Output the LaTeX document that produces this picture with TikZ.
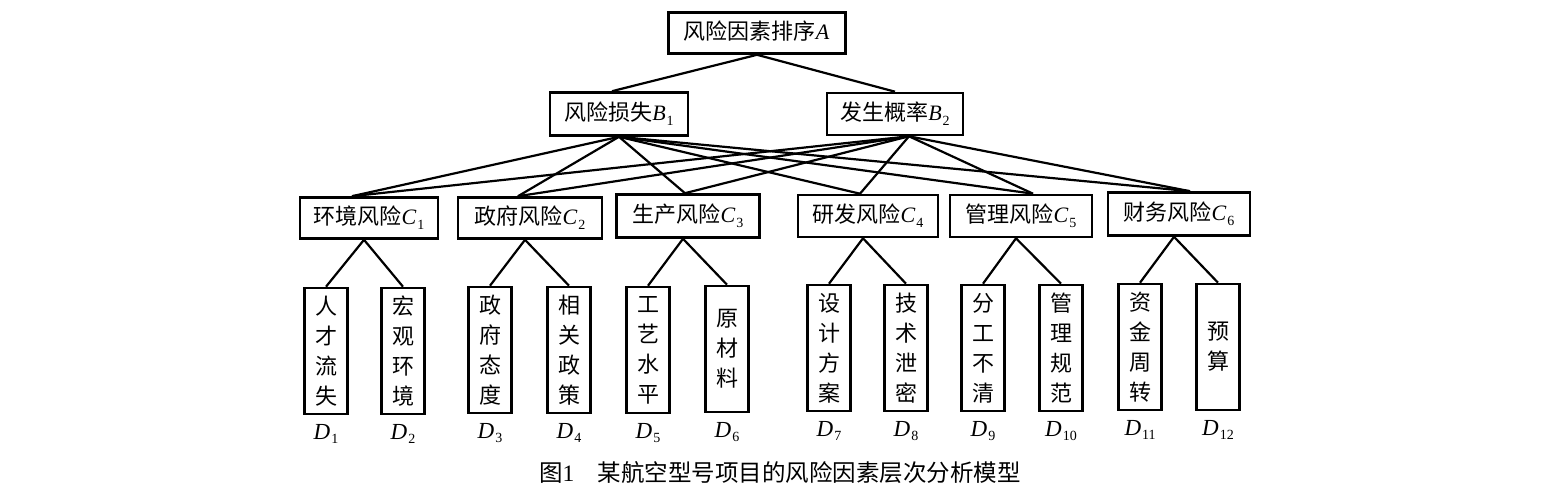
\documentclass[tikz,border=0pt]{standalone}
\usepackage{fontspec}
\setmainfont{Liberation Serif}
\newfontfamily\cjk{Noto Sans CJK SC}
\newcommand\lbl[2]{{\rmfamily\itshape #1}\kern0.04em\raisebox{-0.4ex}{\rmfamily\upshape\fontsize{14}{14}\selectfont #2}}
\begin{document}
\begin{tikzpicture}[x=1pt,y=-1pt,
  line width=2.2pt,
  hbox/.style={draw,line width=2.6pt,inner sep=0pt,minimum height=41pt,font=\cjk\fontsize{22}{24}\selectfont},
  vbox/.style={draw,line width=2.6pt,inner sep=0pt,minimum width=43pt,minimum height=126pt,align=center,font=\cjk\fontsize{22}{30}\selectfont},
  dlab/.style={font=\fontsize{23}{24}\selectfont,inner sep=0pt,anchor=north}]
\useasboundingbox (0,0) rectangle (1543,500);
\fill[white] (0,0) rectangle (1543,500);
% level A
\node[hbox,minimum width=177pt] (A) at (757,33) {风险因素排序\lbl{A}{}};
% level B
\node[hbox,minimum width=138pt,minimum height=43pt] (B1) at (619,114) {风险损失\lbl{B}{1}};
\node[hbox,minimum width=136pt,minimum height=42pt] (B2) at (895,114) {发生概率\lbl{B}{2}};
% level C
\node[hbox,minimum width=138pt] (C1) at (369,218) {环境风险\lbl{C}{1}};
\node[hbox,minimum width=144pt] (C2) at (530,218) {政府风险\lbl{C}{2}};
\node[hbox,minimum width=143pt,minimum height=43pt] (C3) at (688,216) {生产风险\lbl{C}{3}};
\node[hbox,minimum width=140pt,minimum height=42pt] (C4) at (868,216) {研发风险\lbl{C}{4}};
\node[hbox,minimum width=142pt,minimum height=42pt] (C5) at (1021,216) {管理风险\lbl{C}{5}};
\node[hbox,minimum width=142pt,minimum height=43pt] (C6) at (1179,214) {财务风险\lbl{C}{6}};
% level D
\node[vbox] (D1) at (326,351) {人\\才\\流\\失};
\node[vbox] (D2) at (403,351) {宏\\观\\环\\境};
\node[vbox] (D3) at (490,350) {政\\府\\态\\度};
\node[vbox] (D4) at (569,350) {相\\关\\政\\策};
\node[vbox] (D5) at (648,350) {工\\艺\\水\\平};
\node[vbox] (D6) at (727,349) {原\\材\\料};
\node[vbox] (D7) at (829,348) {设\\计\\方\\案};
\node[vbox] (D8) at (906,348) {技\\术\\泄\\密};
\node[vbox] (D9) at (983,348) {分\\工\\不\\清};
\node[vbox] (D10) at (1061,348) {管\\理\\规\\范};
\node[vbox] (D11) at (1140,347) {资\\金\\周\\转};
\node[vbox] (D12) at (1218,347) {预\\算};
% D labels
\foreach \i in {1,...,12}{
  \node[dlab] (L\i) at ([yshift=-8pt]D\i.south) {\lbl{D}{\i}};
}
% connection points
\coordinate (b2s) at ([xshift=14pt]B2.south);
\coordinate (c1n) at ([xshift=-17pt]C1.north);
\coordinate (c2n) at ([xshift=-12pt]C2.north);
\coordinate (c3n) at ([xshift=-3pt]C3.north);
\coordinate (c4n) at ([xshift=-8pt]C4.north);
\coordinate (c5n) at ([xshift=12pt]C5.north);
\coordinate (c6n) at ([xshift=11pt]C6.north);
% edges A-B
\draw (A.south) -- ([xshift=-7pt]B1.north);
\draw (A.south) -- (B2.north);
% edges B-C
\foreach \c in {c1n,c2n,c3n,c4n,c5n,c6n}{
  \draw (B1.south) -- (\c);
  \draw (b2s) -- (\c);
}
% edges C-D
\foreach \c/\l/\r in {C1/D1/D2,C2/D3/D4,C3/D5/D6,C4/D7/D8,C5/D9/D10,C6/D11/D12}{
  \draw (\l.north) -- ([xshift=-5pt]\c.south) -- (\r.north);
}
% caption
\node[font=\fontsize{23.5}{26}\selectfont,inner sep=0pt] (cap) at (780,473) {{\cjk 图}1\quad{\cjk 某航空型号项目的风险因素层次分析模型}};
\end{tikzpicture}
\end{document}
